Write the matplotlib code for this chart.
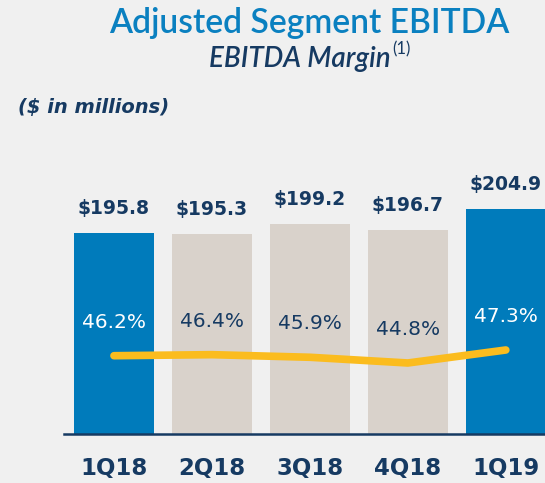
import matplotlib
matplotlib.use("Agg")
import matplotlib.pyplot as plt
import numpy as np

# data
quarters = ["1Q18", "2Q18", "3Q18", "4Q18", "1Q19"]
ebitda = [195.8, 195.3, 199.2, 196.7, 204.9]
margin = [46.2, 46.4, 45.9, 44.8, 47.3]
highlight = [True, False, False, False, True]

bg = "#f0f0f0"
blue = "#007bbb"
beige = "#d9d2cb"
navy = "#163a62"
yellow = "#fbbc1e"

W, H = 545, 483
fig = plt.figure(figsize=(W / 100, H / 100), dpi=100, facecolor=bg)

# axes placed in pixel terms
left, bottom, top = 64, 433.5, 150
ax = fig.add_axes([left / W, (H - bottom) / H, (W - left) / W, (bottom - top) / H])
ax.set_facecolor(bg)

x = np.arange(len(quarters))
colors = [blue if h else beige for h in highlight]
ax.bar(x, ebitda, width=0.816, color=colors, zorder=2)
ax.set_xlim(-0.51, 4.40)
ax.set_ylim(119.6, 227.1)

for s in ["top", "right", "left"]:
    ax.spines[s].set_visible(False)
ax.spines["bottom"].set_color(navy)
ax.spines["bottom"].set_linewidth(1.8)
ax.spines["bottom"].set_zorder(5)
ax.set_yticks([])
ax.set_xticks(x)
ax.set_xticklabels(quarters, fontsize=16.5, fontweight="bold", color=navy)
ax.tick_params(axis="x", length=0, pad=17)

for xi, v in zip(x, ebitda):
    ax.annotate("$%.1f" % v, (xi, v), xytext=(0, 17.5), textcoords="offset points",
                ha="center", va="center", fontsize=13.5, fontweight="bold", color=navy)

# margin line on its own scale
ax2 = ax.twinx()
ax2.set_ylim(31.24, 85.76)
ax2.set_axis_off()
ax2.plot(x, margin, color=yellow, lw=5.5, solid_capstyle="round", zorder=3)
for xi, m, h in zip(x, margin, highlight):
    ax2.annotate("%.1f%%" % m, (xi, m), xytext=(0, 24), textcoords="offset points",
                 ha="center", va="center", fontsize=14.5,
                 color="white" if h else navy)

fig.text(309 / W, 1 - 33 / H, "Adjusted Segment EBITDA", ha="center", va="baseline",
         family="Lato", fontsize=24.2, fontweight="semibold", color="#0a80c0")
sub = fig.text(300 / W, 1 - 67 / H, "EBITDA Margin", ha="center", va="baseline",
               family="Lato", fontsize=20, fontweight="semibold", fontstyle="italic",
               color=navy)
ax.annotate("(1)", xy=(1, 1), xycoords=sub, xytext=(1, -8), textcoords="offset points",
            ha="left", va="bottom", family="Lato", fontsize=12, color=navy,
            annotation_clip=False)
fig.text(18 / W, 1 - 108 / H, "($ in millions)", ha="left", va="center",
         fontsize=14, fontweight="bold", fontstyle="italic", color=navy)

fig.savefig("out.png", dpi=100, facecolor=bg)
